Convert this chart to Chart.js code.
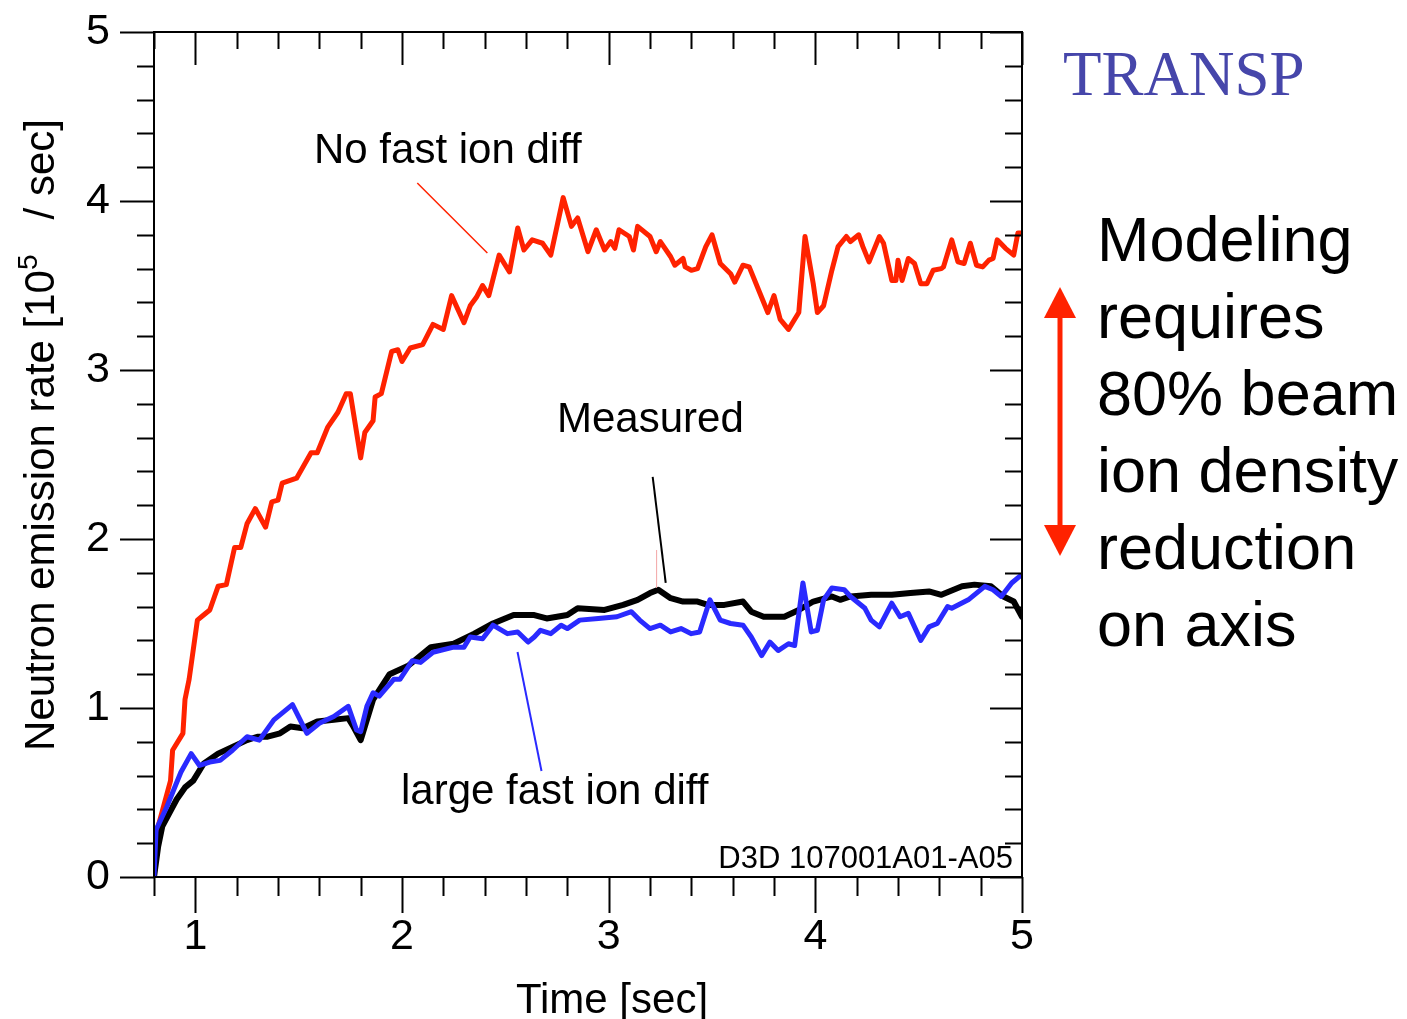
<!DOCTYPE html>
<html>
<head>
<meta charset="utf-8">
<title>Neutron emission rate - TRANSP</title>
<script src="https://cdn.jsdelivr.net/npm/chart.js@4.4.0/dist/chart.umd.min.js"></script>
<style>
  html, body { margin: 0; padding: 0; background: #fff; }
  canvas { display: block; }
</style>
</head>
<body>
<canvas id="rateChart" width="1407" height="1019"></canvas>
<script>
// values: time [s] and neutron rate [1e15 /s]
const noDiffTime = [0.80,0.82,0.88,0.89,0.94,0.95,0.97,1.01,1.04,1.07,
  1.11,1.15,1.19,1.22,1.25,1.29,1.34,1.37,1.40,1.42,
  1.49,1.56,1.59,1.64,1.69,1.73,1.75,1.80,1.82,1.86,
  1.87,1.90,1.95,1.98,2.00,2.04,2.10,2.15,2.20,2.24,
  2.30,2.33,2.36,2.39,2.42,2.47,2.52,2.56,2.59,2.63,
  2.68,2.72,2.78,2.82,2.85,2.90,2.94,2.98,3.01,3.03,
  3.05,3.10,3.12,3.14,3.20,3.23,3.25,3.30,3.32,3.36,
  3.37,3.40,3.43,3.47,3.50,3.54,3.59,3.61,3.65,3.68,
  3.73,3.77,3.80,3.83,3.87,3.92,3.95,3.99,4.01,4.04,
  4.08,4.11,4.15,4.17,4.21,4.23,4.26,4.31,4.33,4.37,
  4.39,4.40,4.42,4.45,4.48,4.51,4.54,4.57,4.61,4.62,
  4.66,4.69,4.72,4.75,4.78,4.81,4.84,4.86,4.88,4.92,
  4.96,4.98,5.00];
const noDiffRate = [0.00,0.30,0.57,0.75,0.85,1.05,1.17,1.52,1.55,1.58,
  1.72,1.73,1.95,1.95,2.09,2.18,2.07,2.22,2.23,2.33,
  2.36,2.51,2.51,2.66,2.75,2.86,2.86,2.48,2.63,2.70,
  2.84,2.86,3.11,3.12,3.05,3.13,3.15,3.27,3.24,3.44,
  3.28,3.38,3.43,3.50,3.44,3.68,3.58,3.84,3.71,3.77,
  3.75,3.68,4.02,3.85,3.90,3.70,3.83,3.71,3.76,3.72,
  3.83,3.79,3.71,3.85,3.79,3.70,3.76,3.67,3.62,3.66,
  3.61,3.59,3.60,3.73,3.80,3.63,3.57,3.52,3.62,3.61,
  3.46,3.34,3.44,3.30,3.24,3.34,3.79,3.51,3.34,3.38,
  3.59,3.73,3.79,3.76,3.80,3.73,3.64,3.79,3.75,3.53,
  3.53,3.65,3.53,3.66,3.63,3.51,3.51,3.59,3.60,3.61,
  3.77,3.64,3.63,3.75,3.62,3.61,3.65,3.66,3.77,3.72,
  3.68,3.81,3.81];

const measuredTime = [0.80,0.82,0.84,0.91,0.95,0.99,1.04,1.11,1.18,1.25,
  1.30,1.35,1.41,1.46,1.52,1.59,1.67,1.74,1.76,1.80,
  1.83,1.86,1.94,2.03,2.14,2.25,2.35,2.44,2.54,2.64,
  2.70,2.80,2.85,2.98,3.07,3.14,3.20,3.24,3.30,3.36,
  3.43,3.48,3.56,3.65,3.69,3.75,3.85,3.92,3.99,4.08,
  4.12,4.17,4.27,4.37,4.46,4.55,4.61,4.71,4.77,4.85,
  4.91,4.96,5.00];
const measuredRate = [0.00,0.18,0.30,0.46,0.53,0.57,0.67,0.73,0.77,0.81,
  0.83,0.83,0.85,0.89,0.88,0.92,0.93,0.94,0.90,0.81,
  0.93,1.05,1.20,1.25,1.36,1.38,1.44,1.50,1.55,1.55,
  1.53,1.55,1.59,1.58,1.61,1.64,1.68,1.70,1.65,1.63,
  1.63,1.61,1.61,1.63,1.57,1.54,1.54,1.58,1.63,1.66,
  1.64,1.66,1.67,1.67,1.68,1.69,1.67,1.72,1.73,1.72,
  1.66,1.63,1.54];

const largeDiffTime = [0.80,0.81,0.86,0.93,0.98,1.02,1.07,1.12,1.18,1.25,
  1.31,1.38,1.47,1.54,1.60,1.67,1.74,1.78,1.80,1.83,
  1.86,1.89,1.96,1.99,2.05,2.09,2.15,2.25,2.30,2.33,
  2.39,2.44,2.51,2.56,2.61,2.64,2.67,2.72,2.77,2.80,
  2.86,2.95,3.04,3.11,3.15,3.20,3.25,3.30,3.35,3.40,
  3.44,3.49,3.54,3.59,3.65,3.69,3.74,3.78,3.82,3.87,
  3.90,3.94,3.98,4.01,4.04,4.08,4.14,4.17,4.24,4.27,
  4.31,4.37,4.41,4.45,4.51,4.55,4.59,4.64,4.66,4.74,
  4.82,4.86,4.90,4.95,4.99];
const largeDiffRate = [0.00,0.28,0.41,0.62,0.73,0.66,0.68,0.69,0.75,0.83,
  0.81,0.93,1.02,0.85,0.91,0.95,1.01,0.87,0.86,1.01,
  1.09,1.07,1.17,1.17,1.28,1.27,1.33,1.36,1.36,1.42,
  1.41,1.49,1.44,1.45,1.39,1.42,1.46,1.44,1.49,1.47,
  1.52,1.53,1.54,1.57,1.52,1.47,1.49,1.45,1.47,1.44,
  1.45,1.64,1.52,1.50,1.49,1.42,1.31,1.39,1.34,1.38,
  1.37,1.74,1.45,1.46,1.64,1.71,1.70,1.66,1.59,1.52,
  1.48,1.62,1.54,1.56,1.40,1.48,1.50,1.60,1.59,1.64,
  1.72,1.70,1.66,1.74,1.78];

const xTickLabels = [1, 2, 3, 4, 5];
const yTickLabels = [0, 1, 2, 3, 4, 5];
const noteLines = ['Modeling', 'requires', '80% beam', 'ion density', 'reduction', 'on axis'];

const SANS = '"Liberation Sans", Arial, Helvetica, sans-serif';

function zip(ts, vs) {
  const n = Math.min(ts.length, vs.length);
  const out = [];
  for (let i = 0; i < n; i++) out.push({ x: ts[i], y: vs[i] });
  return out;
}

// frame with inward/outward ticks, annotations and side note
const decorations = {
  id: 'decorations',
  afterDatasetsDraw(chart) {
    const ctx = chart.ctx;
    const a = chart.chartArea;
    const xs = chart.scales.x, ys = chart.scales.y;
    const X = v => xs.getPixelForValue(v), Y = v => ys.getPixelForValue(v);

    ctx.save();
    // leader lines
    ctx.lineCap = 'butt';
    ctx.lineWidth = 1.5;
    ctx.strokeStyle = '#ff2200';
    ctx.beginPath(); ctx.moveTo(X(2.074), Y(4.107)); ctx.lineTo(X(2.413), Y(3.692)); ctx.stroke();
    ctx.lineWidth = 2;
    ctx.strokeStyle = '#000';
    ctx.beginPath(); ctx.moveTo(X(3.213), Y(2.367)); ctx.lineTo(X(3.276), Y(1.740)); ctx.stroke();
    ctx.lineWidth = 1;
    ctx.strokeStyle = '#f3a6a6';
    ctx.beginPath(); ctx.moveTo(X(3.232), Y(1.935)); ctx.lineTo(X(3.232), Y(1.710)); ctx.stroke();
    ctx.lineWidth = 2;
    ctx.strokeStyle = '#2a2aff';
    ctx.beginPath(); ctx.moveTo(X(2.559), Y(1.331)); ctx.lineTo(X(2.675), Y(0.627)); ctx.stroke();

    // frame
    ctx.strokeStyle = '#000';
    ctx.lineWidth = 2;
    ctx.strokeRect(a.left, a.top, a.right - a.left, a.bottom - a.top);

    ctx.beginPath();
    for (let i = 0; i <= 21; i++) {
      const v = 0.8 + i * 0.2;
      const major = Math.abs(v - Math.round(v)) < 1e-6;
      const px = Math.round(X(v)) + 0.5;
      ctx.moveTo(px, a.bottom); ctx.lineTo(px, a.bottom + (major ? 36 : 19));
      ctx.moveTo(px, a.top); ctx.lineTo(px, a.top + (major ? 33 : 17));
    }
    for (let i = 0; i <= 25; i++) {
      const v = i * 0.2;
      const major = Math.abs(v - Math.round(v)) < 1e-6;
      const py = Math.round(Y(v)) + 0.5;
      ctx.moveTo(a.left - (major ? 34 : 17), py); ctx.lineTo(a.left, py);
      ctx.moveTo(a.right - (major ? 32 : 17), py); ctx.lineTo(a.right, py);
    }
    ctx.stroke();

    // curve labels
    ctx.fillStyle = '#000';
    ctx.textBaseline = 'alphabetic';
    ctx.textAlign = 'left';
    ctx.font = '42px ' + SANS;
    ctx.fillText('No fast ion diff', 314, 163);
    ctx.fillText('Measured', 557, 432);
    ctx.fillText('large fast ion diff', 401, 804);
    ctx.font = '31px ' + SANS;
    ctx.textAlign = 'right';
    ctx.fillText('D3D 107001A01-A05', 1013, 868);

    // axis titles
    ctx.textAlign = 'center';
    ctx.font = '42px ' + SANS;
    ctx.fillText('Time [sec]', 612, 1013);

    ctx.save();
    ctx.translate(54, 435);
    ctx.rotate(-Math.PI / 2);
    ctx.textAlign = 'left';
    const head = 'Neutron emission rate [10', sup = '5', tail = '   / sec]';
    ctx.font = '42px ' + SANS;
    const w1 = ctx.measureText(head).width, w3 = ctx.measureText(tail).width;
    ctx.font = '28px ' + SANS;
    const w2 = ctx.measureText(sup).width;
    let cx = -(w1 + w2 + w3) / 2;
    ctx.font = '42px ' + SANS;
    ctx.fillText(head, cx, 0);
    ctx.font = '28px ' + SANS;
    ctx.fillText(sup, cx + w1, -17);
    ctx.font = '42px ' + SANS;
    ctx.fillText(tail, cx + w1 + w2, 0);
    ctx.restore();

    // TRANSP tag
    ctx.textAlign = 'left';
    ctx.fillStyle = '#4646aa';
    ctx.font = '63px "Liberation Serif", "Times New Roman", serif';
    ctx.fillText('TRANSP', 1063, 95);

    // side note
    ctx.fillStyle = '#000';
    ctx.font = '63px ' + SANS;
    noteLines.forEach((line, i) => ctx.fillText(line, 1097, 261 + i * 77));

    // double arrow
    const ax = 1060;
    ctx.fillStyle = '#ff2200';
    ctx.strokeStyle = '#ff2200';
    ctx.lineWidth = 5;
    ctx.beginPath(); ctx.moveTo(ax, 312); ctx.lineTo(ax, 531); ctx.stroke();
    ctx.beginPath(); ctx.moveTo(ax, 287); ctx.lineTo(ax - 16, 318); ctx.lineTo(ax + 16, 318); ctx.closePath(); ctx.fill();
    ctx.beginPath(); ctx.moveTo(ax, 556); ctx.lineTo(ax - 16, 525); ctx.lineTo(ax + 16, 525); ctx.closePath(); ctx.fill();

    ctx.restore();
  }
};

const tickFont = { family: SANS, size: 43 };

new Chart(document.getElementById('rateChart'), {
  type: 'line',
  data: {
    datasets: [
      { label: 'large fast ion diff', data: zip(largeDiffTime, largeDiffRate), borderColor: '#2a2aff', borderWidth: 5, order: 1 },
      { label: 'Measured', data: zip(measuredTime, measuredRate), borderColor: '#000000', borderWidth: 6, order: 2 },
      { label: 'No fast ion diff', data: zip(noDiffTime, noDiffRate), borderColor: '#ff2200', borderWidth: 5, order: 3 }
    ]
  },
  options: {
    responsive: false,
    devicePixelRatio: 1,
    animation: false,
    layout: { padding: { top: 32, right: 385, left: 0, bottom: 0 } },
    elements: {
      point: { radius: 0 },
      line: { tension: 0, borderJoinStyle: 'round', borderCapStyle: 'round', fill: false }
    },
    plugins: { legend: { display: false }, tooltip: { enabled: false } },
    scales: {
      x: {
        type: 'linear', min: 0.8, max: 5,
        grid: { display: false }, border: { display: false },
        afterBuildTicks: s => { s.ticks = xTickLabels.map(v => ({ value: v })); },
        afterFit: s => { s.height = 142; s.paddingLeft = 0; s.paddingRight = 0; },
        ticks: { font: tickFont, color: '#000', padding: 26, maxRotation: 0, autoSkip: false }
      },
      y: {
        type: 'linear', min: 0, max: 5,
        grid: { display: false }, border: { display: false },
        afterBuildTicks: s => { s.ticks = yTickLabels.map(v => ({ value: v })); },
        afterFit: s => { s.width = 154; s.paddingTop = 0; s.paddingBottom = 0; },
        ticks: { font: tickFont, color: '#000', padding: 36 }
      }
    }
  },
  plugins: [decorations]
});
</script>
</body>
</html>
